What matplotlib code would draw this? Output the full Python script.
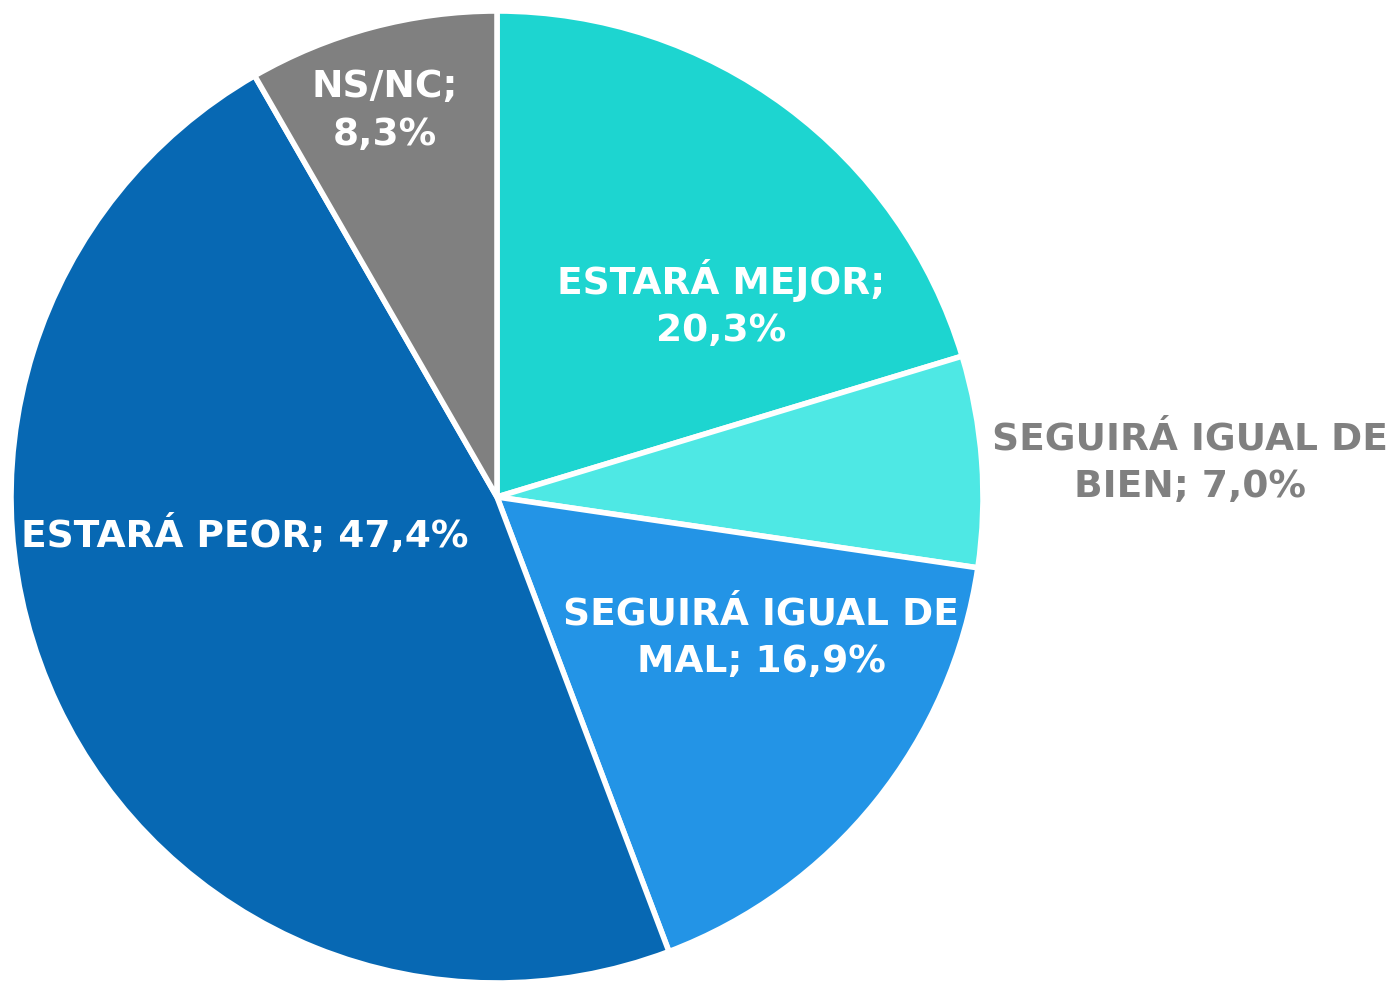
import matplotlib
matplotlib.use("Agg")
from matplotlib import pyplot as plt

labels = ["ESTARÁ MEJOR;\n20,3%", "SEGUIRÁ IGUAL DE\nBIEN; 7,0%", "SEGUIRÁ IGUAL DE\nMAL; 16,9%",
          "ESTARÁ PEOR; 47,4%", "NS/NC;\n8,3%"]
values = [20.3, 7.0, 16.9, 47.4, 8.3]
colors = ["#1DD5D0", "#4EE8E4", "#2394E6", "#0768B3", "#808080"]
text_colors = ["white", "#808080", "white", "white", "white"]
# label positions in pixels (x, y from top)
label_pos = [(721, 304), (1190, 463), (761, 638), (245, 535), (385, 111)]

fig = plt.figure(figsize=(13.97, 9.82), dpi=100)
ax = fig.add_axes([0, 0, 1, 1])

ax.pie(values, colors=colors, startangle=90, counterclock=False,
       center=(497, 982 - 497), radius=486,
       wedgeprops=dict(edgecolor="white", linewidth=4))
ax.set_xlim(0, 1397)
ax.set_ylim(0, 982)
ax.set_aspect("equal")
ax.axis("off")

for lab, (x, y), c in zip(labels, label_pos, text_colors):
    ax.text(x, 982 - y, lab, ha="center", va="center", color=c,
            fontsize=27, fontweight="bold", family="DejaVu Sans", linespacing=1.42)

fig.savefig("out.png", dpi=100)
